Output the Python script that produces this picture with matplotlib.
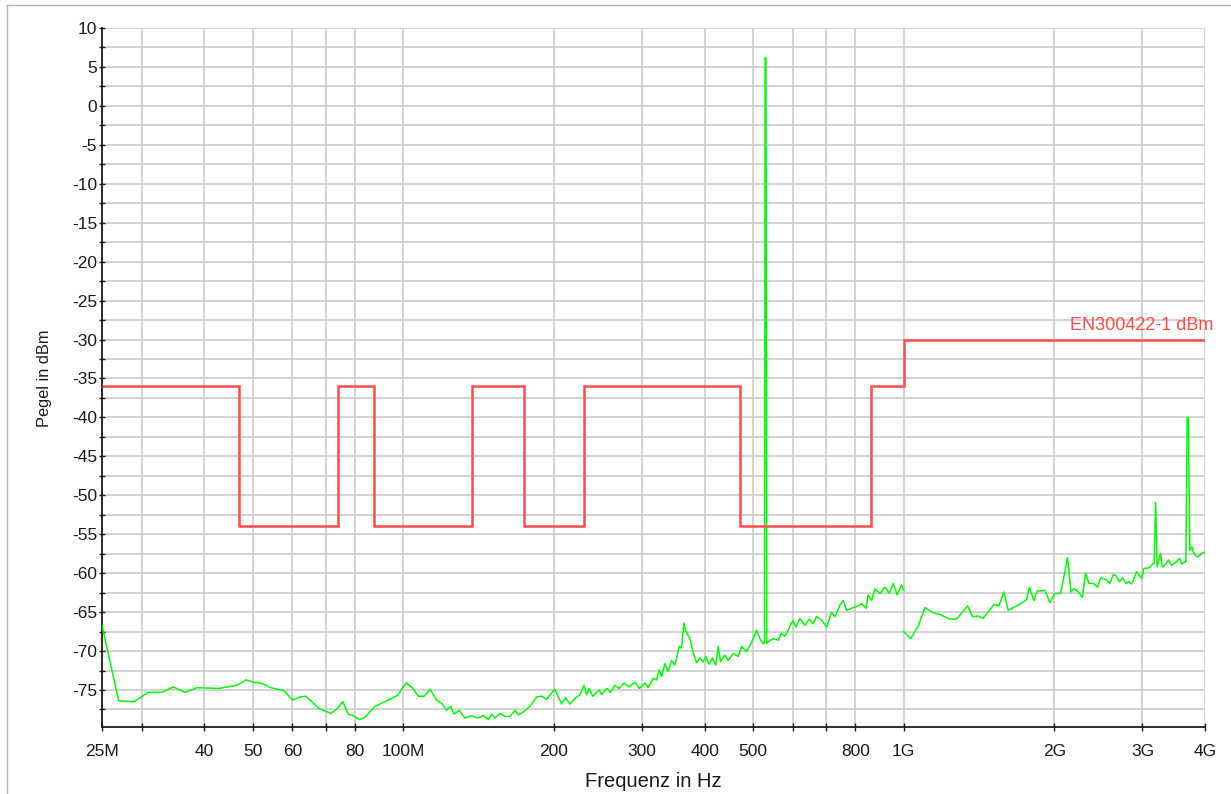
import matplotlib
matplotlib.use("Agg")
from matplotlib import pyplot as plt
from matplotlib.lines import Line2D
import numpy as np

plt.rcParams['font.family'] = ['Liberation Sans', 'DejaVu Sans']

# spectrum 25 MHz - 1 GHz (MHz, dBm)
f1_mhz = [25.0, 27.0, 29.0, 30.9, 32.9, 34.7, 36.6, 38.7, 42.7, 46.5, 48.5, 50.2, 52.5, 54.3,
          57.8, 60.1, 62.2, 63.9, 67.9, 71.7, 73.8, 75.7, 77.6, 79.5, 81.7, 83.8, 87.8, 92.6,
          97.3, 101.3, 103.9, 107.2, 110.0, 113.1, 116.6, 119.3, 122.1, 124.4, 126.3, 129.4,
          132.8, 137.0, 140.6, 144.5, 147.9, 150.2, 152.5, 156.1, 159.7, 163.4, 167.2, 169.8,
          173.8, 179.1, 184.7, 189.0, 193.4, 196.4, 200.9, 207.2, 211.1, 215.2, 220.2, 225.4,
          229.6, 232.5, 235.3, 239.0, 246.3, 249.1, 254.9, 259.6, 264.8, 270.1, 276.0, 282.8,
          290.3, 296.1, 304.0, 308.6, 315.8, 320.8, 324.6, 328.2, 333.2, 338.4, 343.6, 349.0,
          356.0, 359.8, 363.7, 367.0, 373.8, 378.5, 385.5, 391.4, 397.4, 402.3, 408.5, 414.9,
          421.3, 425.8, 430.5, 439.1, 445.9, 456.3, 466.9, 474.2, 485.2, 496.5, 508.1, 515.8,
          523.8, 527.0, 528.5, 530.5, 532.5, 536.0, 548.5, 561.3, 570.0, 578.8, 587.8, 599.8,
          608.9, 620.2, 634.6, 647.3, 659.3, 669.7, 682.3, 701.5, 717.8, 728.6, 745.6, 757.0,
          769.0, 786.9, 805.2, 823.9, 840.4, 849.3, 862.7, 876.0, 896.3, 917.1, 935.4, 952.8,
          970.5, 990.3, 1000.0]
lvl1 = [-66.7, -76.4, -76.5, -75.3, -75.3, -74.6, -75.3, -74.7, -74.8, -74.4, -73.7, -74.0, -74.2, -74.7,
        -75.1, -76.3, -75.9, -75.8, -77.4, -78.0, -77.4, -76.5, -78.1, -78.3, -78.8, -78.5, -77.1, -76.4,
        -75.7, -74.1, -74.6, -75.8, -75.8, -74.9, -76.3, -76.7, -77.6, -77.1, -78.1, -77.6,
        -78.6, -78.3, -78.6, -78.3, -78.8, -78.1, -78.6, -78.0, -78.4, -78.4, -77.6, -78.2,
        -77.8, -77.1, -75.9, -75.8, -76.2, -75.6, -74.9, -76.8, -76.0, -76.8, -76.1, -75.6,
        -74.4, -75.6, -74.8, -75.8, -75.0, -75.6, -74.8, -75.3, -74.4, -74.8, -74.1, -74.6,
        -74.0, -74.8, -74.1, -74.7, -73.5, -73.7, -72.4, -73.3, -71.6, -72.6, -71.2, -71.8,
        -69.4, -69.6, -66.4, -67.4, -68.4, -69.9, -71.5, -70.9, -71.4, -70.7, -71.7, -70.9,
        -71.8, -69.4, -71.4, -70.5, -71.2, -70.3, -70.7, -69.4, -70.1, -68.9, -67.3, -68.4,
        -69.1, -68.8, 6.2, 6.2, -69.0, -68.8, -68.4, -68.6, -67.7, -68.1, -67.3, -66.1,
        -66.9, -65.8, -66.7, -65.9, -66.5, -65.6, -65.9, -66.9, -65.0, -65.6, -64.1, -63.5,
        -64.8, -64.5, -64.3, -63.9, -64.5, -62.8, -63.5, -62.0, -62.6, -61.8, -62.6, -61.3,
        -62.8, -61.5, -62.2]

# spectrum 1 GHz - 4 GHz (MHz, dBm)
f2_mhz = [1000, 1033, 1069, 1103, 1146, 1181, 1237, 1275, 1342, 1373, 1409, 1441, 1516, 1550,
          1586, 1617, 1693, 1760, 1782, 1820, 1849, 1915, 1960, 2005, 2058, 2126, 2159, 2192,
          2233, 2274, 2310, 2345, 2392, 2441, 2475, 2535, 2582, 2622, 2655, 2696, 2738, 2780,
          2822, 2854, 2920, 2988, 3020, 3095, 3144, 3165, 3187, 3210, 3231, 3261, 3285, 3326,
          3377, 3430, 3483, 3563, 3591, 3663, 3685, 3705, 3731, 3766, 3800, 3858, 3907, 3979, 4000]
lvl2 = [-67.5, -68.4, -66.8, -64.4, -65.1, -65.3, -65.9, -65.9, -64.2, -65.6, -65.5, -65.8, -64.0, -64.2,
        -62.4, -64.8, -64.1, -63.4, -61.8, -63.5, -62.3, -62.2, -63.8, -62.6, -62.6, -58.0, -62.4, -62.0,
        -62.4, -63.1, -60.0, -61.3, -61.3, -61.8, -60.6, -60.8, -61.3, -60.2, -60.3, -61.1, -60.6, -61.3,
        -61.1, -61.4, -59.8, -60.7, -59.4, -59.3, -58.8, -58.7, -50.9, -59.2, -58.5, -57.5, -59.2, -59.0,
        -58.3, -59.0, -58.7, -58.1, -58.8, -58.5, -40.0, -40.0, -57.1, -56.6, -57.5, -57.9, -57.7, -57.3, -57.4]

# EN 300 422-1 limit (band edges in MHz, level in dBm)
limit_edges_mhz = [25, 47, 74, 87.5, 137, 174, 230, 470, 862, 1000, 4000]
limit_dbm = [-36, -54, -36, -54, -36, -54, -36, -54, -36, -30]

tick_mhz = [25, 30, 40, 50, 60, 70, 80, 100, 200, 300, 400, 500, 600, 700, 800, 1000, 2000, 3000, 4000]
tick_labels = ['25M', '', '40', '50', '60', '', '80', '100M', '200', '300', '400', '500', '', '',
               '800', '1G', '2G', '3G', '4G']

fig = plt.figure(figsize=(12.31, 7.94), dpi=100)
ax = fig.add_axes([102/1231, 1-727/794, 1103/1231, 699/794])

ax.plot(np.array(f1_mhz)*1e6, lvl1, color='#00ff00', lw=1.1, zorder=3)
ax.plot(np.array(f2_mhz)*1e6, lvl2, color='#00ff00', lw=1.1, zorder=3)
ax.stairs(limit_dbm, np.array(limit_edges_mhz)*1e6, baseline=None, color='#ff4a4a', lw=1.8, zorder=4)
ax.text(4.165e9, -29.3, 'EN300422-1 dBm', color='#ff4a4a', fontsize=13, ha='right', va='bottom',
        clip_on=False)

ax.set_xscale('log')
ax.set_xlim(25e6, 4e9)
ax.set_ylim(-79.75, 10)
ax.set_xticks(np.array(tick_mhz)*1e6)
ax.set_xticklabels(tick_labels)
ax.xaxis.set_minor_locator(plt.NullLocator())
ax.set_yticks(np.arange(-75, 11, 5))
ax.set_yticks(np.arange(-77.5, 10, 2.5), minor=True)
ax.set_yticklabels([str(v) for v in range(-75, 11, 5)])

ax.grid(True, which='both', color='#cbcbcb', lw=1.2)
ax.set_axisbelow(True)
for s in ['top', 'right']:
    ax.spines[s].set_visible(False)
for s in ['left', 'bottom']:
    ax.spines[s].set_linewidth(1.3)
    ax.spines[s].set_color('#1a1a1a')

ax.tick_params(axis='x', direction='inout', length=6, width=1, pad=9, labelsize=12.5, colors='#1a1a1a')
ax.tick_params(axis='y', which='major', direction='inout', length=5, width=1, pad=1, labelsize=12.5, colors='#1a1a1a')
ax.tick_params(axis='y', which='minor', direction='inout', length=5, width=1, colors='#1a1a1a')

fig.text(45/1231, 1-378/794, 'Pegel in dBm', rotation=90, ha='center', va='center', fontsize=11.8, color='#1a1a1a')
fig.text(653/1231, 1-787/794, 'Frequenz in Hz', ha='center', va='baseline', fontsize=14.5, color='#1a1a1a')

# outer frame
fig.add_artist(Line2D([7/1231, 7/1231], [0, 1-5/794], transform=fig.transFigure, color='#b4b4b4', lw=1))
fig.add_artist(Line2D([7/1231, 1], [1-5/794, 1-5/794], transform=fig.transFigure, color='#b4b4b4', lw=1))

fig.savefig('out.png', dpi=100)
